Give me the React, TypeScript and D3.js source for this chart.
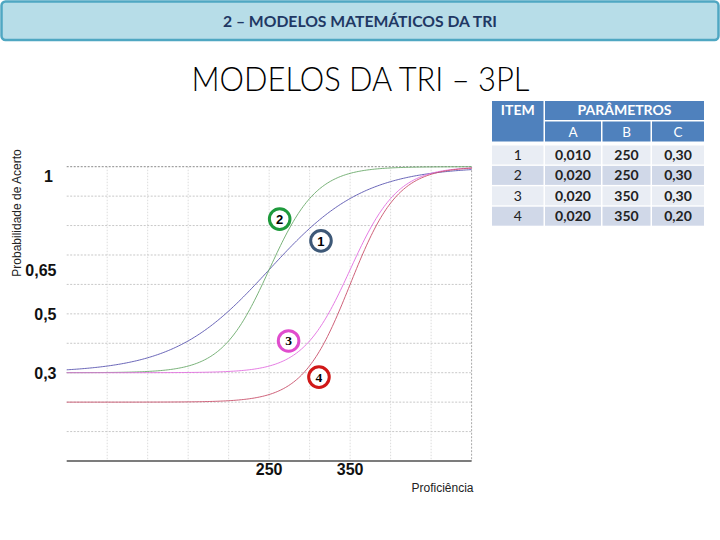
import React from "react";
import * as d3 from "d3";

// ---- Data ----
const itemIds = [1, 2, 3, 4];
const paramA = [0.01, 0.02, 0.02, 0.02];
const paramB = [250, 250, 350, 350];
const paramC = [0.3, 0.3, 0.3, 0.2];
const paramALabels = ["0,010", "0,020", "0,020", "0,020"];
const paramBLabels = ["250", "250", "350", "350"];
const paramCLabels = ["0,30", "0,30", "0,30", "0,20"];
const curveColors = ["#5a55b0", "#6aaa6a", "#e26ee0", "#c9506a"];
const circleColors = ["#3d5877", "#1e9a3c", "#e04ccd", "#d01818"];
// annotation badge anchors (theta, probability)
const badgeTheta = [314, 263, 274, 311.5];
const badgeProb = [0.748, 0.822, 0.408, 0.285];
const badgeSerif = [false, false, true, true];

const yTickValues = [1, 0.65, 0.5, 0.3];
const yTickLabels = ["1", "0,65", "0,5", "0,3"];
const xTickValues = [250, 350];
const xTickLabels = ["250", "350"];
const thetaDomain = [0, 500];
const D = 1.7;

const x = d3.scaleLinear().domain(thetaDomain).range([66.7, 471.6]);
const y = d3.scaleLinear().domain([0, 1]).range([461, 166.7]);

function p3pl(theta: number, a: number, b: number, c: number) {
  return c + (1 - c) / (1 + Math.exp(-D * a * (theta - b)));
}

const thetas = d3.range(thetaDomain[0], thetaDomain[1] + 0.001, 2);
const line = d3
  .line<number[]>()
  .x((d) => x(d[0]))
  .y((d) => y(d[1]))
  .curve(d3.curveMonotoneX);

const hGrid = d3.range(1, 10).map((i) => i / 10);
const vGrid = d3.range(50, 500, 50);

const calibri = "Lato, 'Open Sans', sans-serif";
const arial = "'Liberation Sans', Arial, sans-serif";

export default function App() {
  const colX = [492, 545, 602.5, 652];
  const colW = [51.5, 56, 48, 52];
  const rowTop0 = 145.5;
  const rowPitch = 20.4;
  const rowH = 19;
  const rowFill = ["#e9edf4", "#d0d8e8"];
  const colCenter = colX.map((cx, i) => cx + colW[i] / 2);

  return (
    <div style={{ position: "absolute", left: 0, top: 0 }}>
      <svg width={720} height={540} style={{ display: "block", background: "#fff" }}>
        {/* header band */}
        <rect x={1.5} y={1.5} width={717} height={38.5} rx={4} fill="#b7dde8" stroke="#4fa7c2" strokeWidth={2.5} />
        <text
          x={360}
          y={26.5}
          textAnchor="middle"
          fontFamily={calibri}
          fontWeight="bold"
          fontSize={14.5}
          fill="#1f3864"
          textLength={274}
          lengthAdjust="spacingAndGlyphs"
        >
          2 – MODELOS MATEMÁTICOS DA TRI
        </text>
        <text
          x={360.5}
          y={91}
          textAnchor="middle"
          fontFamily={calibri}
          fontWeight={300}
          fontSize={33}
          fill="#000"
          textLength={338}
          lengthAdjust="spacingAndGlyphs"
        >
          MODELOS DA TRI – 3PL
        </text>

        {/* grid */}
        {vGrid.map((v) => (
          <line key={"v" + v} x1={x(v)} x2={x(v)} y1={y(1)} y2={y(0)} stroke="#dcdcdc" strokeDasharray="1.5,1.5" strokeWidth={1} />
        ))}
        {hGrid.map((v) => (
          <line key={"h" + v} x1={x(0)} x2={x(500)} y1={y(v)} y2={y(v)} stroke="#c8c8c8" strokeDasharray="2,1.5" strokeWidth={1} />
        ))}
        <line x1={x(0)} x2={x(500)} y1={y(1)} y2={y(1)} stroke="#8a8a8a" strokeDasharray="2,1.5" strokeWidth={1} />
        <line x1={x(500)} x2={x(500)} y1={y(1)} y2={y(0)} stroke="#a8a8a8" strokeDasharray="2,1.5" strokeWidth={1} />

        {/* curves */}
        {itemIds.map((id, i) => (
          <path
            key={"c" + id}
            d={line(thetas.map((t) => [t, p3pl(t, paramA[i], paramB[i], paramC[i])])) || ""}
            fill="none"
            stroke={curveColors[i]}
            strokeWidth={1}
            strokeOpacity={0.9}
          />
        ))}

        {/* x axis */}
        <line x1={x(0)} x2={x(500)} y1={y(0)} y2={y(0)} stroke="#505050" strokeWidth={1.5} />
        {xTickValues.map((v, i) => (
          <text key={"xt" + v} x={x(v)} y={475} textAnchor="middle" fontFamily={arial} fontWeight="bold" fontSize={16} fill="#111">
            {xTickLabels[i]}
          </text>
        ))}
        {yTickValues.map((v, i) => (
          <text
            key={"yt" + v}
            x={v === 1 ? 48.5 : 56.5}
            y={y(v) + (v === 1 ? 15 : 6)}
            textAnchor={v === 1 ? "middle" : "end"}
            fontFamily={arial}
            fontWeight="bold"
            fontSize={16}
            fill="#111"
          >
            {yTickLabels[i]}
          </text>
        ))}
        <text x={473.5} y={492} textAnchor="end" fontFamily={arial} fontSize={12} fill="#222">
          Proficiência
        </text>
        <text
          transform={`translate(20.5,213) rotate(-90)`}
          textAnchor="middle"
          fontFamily={arial}
          fontSize={12}
          fill="#222"
        >
          Probabilidade de Acerto
        </text>

        {/* badges */}
        {itemIds.map((id, i) => (
          <g key={"b" + id} transform={`translate(${x(badgeTheta[i])},${y(badgeProb[i])})`}>
            <circle r={10.3} fill="#fff" stroke={circleColors[i]} strokeWidth={3} />
            <text
              y={badgeSerif[i] ? 4.5 : 4.8}
              textAnchor="middle"
              fontFamily={badgeSerif[i] ? "'Liberation Serif', serif" : arial}
              fontWeight="bold"
              fontSize={badgeSerif[i] ? 13.5 : 13}
              fill="#000"
            >
              {id}
            </text>
          </g>
        ))}

        {/* table */}
        <rect x={colX[0]} y={101} width={colW[0]} height={40.5} fill="#4f81bd" />
        <rect x={colX[1]} y={101} width={colX[3] + colW[3] - colX[1]} height={19} fill="#4f81bd" />
        {[1, 2, 3].map((c) => (
          <rect key={"h2" + c} x={colX[c]} y={121.5} width={colW[c]} height={20} fill="#4f81bd" />
        ))}
        <text x={colCenter[0]} y={115} textAnchor="middle" fontFamily={calibri} fontWeight="bold" fontSize={14} fill="#fff">
          ITEM
        </text>
        <text
          x={(colX[1] + colX[3] + colW[3]) / 2}
          y={115}
          textAnchor="middle"
          fontFamily={calibri}
          fontWeight="bold"
          fontSize={14}
          fill="#fff"
          textLength={94}
          lengthAdjust="spacingAndGlyphs"
        >
          PARÂMETROS
        </text>
        {["A", "B", "C"].map((h, i) => (
          <text key={"hh" + h} x={colCenter[i + 1]} y={137} textAnchor="middle" fontFamily={calibri} fontSize={13.5} fill="#fff">
            {h}
          </text>
        ))}
        {itemIds.map((id, r) => {
          const top = rowTop0 + r * rowPitch;
          const cells = [String(id), paramALabels[r], paramBLabels[r], paramCLabels[r]];
          return (
            <g key={"r" + id}>
              {cells.map((txt, c) => (
                <g key={"cell" + c}>
                  <rect x={colX[c]} y={top} width={colW[c]} height={rowH} fill={rowFill[r % 2]} />
                  <text
                    x={colCenter[c]}
                    y={top + rowH / 2 + 5}
                    textAnchor="middle"
                    fontFamily={calibri}
                    fontWeight={c === 0 ? "normal" : "bold"}
                    fontSize={14}
                    fill="#222"
                  >
                    {txt}
                  </text>
                </g>
              ))}
            </g>
          );
        })}
      </svg>
    </div>
  );
}
